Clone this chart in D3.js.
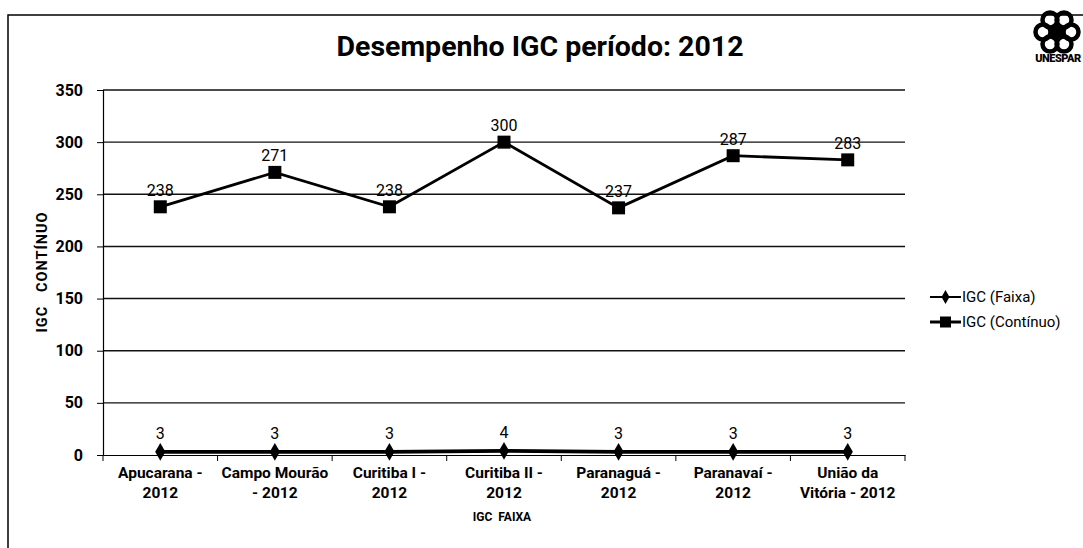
<!DOCTYPE html>
<html><head><meta charset="utf-8">
<script src="https://cdn.jsdelivr.net/npm/d3@7"></script>
<style>
body{margin:0;background:#fff;}
svg text{font-family:Roboto,"Liberation Sans",sans-serif;white-space:pre;}
</style></head>
<body><svg id="c" width="1083" height="548"></svg>
<script>
const categories = [["Apucarana -","2012"],["Campo Mourão","- 2012"],["Curitiba I -","2012"],["Curitiba II -","2012"],["Paranaguá -","2012"],["Paranavaí -","2012"],["União da","Vitória - 2012"]];
const faixa = [3,3,3,4,3,3,3];
const continuo = [238,271,238,300,237,287,283];
const yTicks = [0,50,100,150,200,250,300,350];
const seriesNames = ["IGC (Faixa)","IGC (Contínuo)"];

const svg = d3.select("#c");
// outer frame
svg.append("rect").attr("x",8).attr("y",15).attr("width",1090).attr("height",560)
  .attr("fill","none").attr("stroke","#000").attr("stroke-width",1.5);

const m = {l:103,r:905,t:90,b:455};
const x = d3.scaleBand().domain(d3.range(categories.length)).range([m.l,m.r]);
const y = d3.scaleLinear().domain([0,350]).range([m.b,m.t]);

// gridlines
svg.append("g").selectAll("line").data(yTicks.filter(d=>d>0)).join("line")
  .attr("x1",m.l).attr("x2",m.r).attr("y1",d=>y(d)).attr("y2",d=>y(d))
  .attr("stroke","#111").attr("stroke-width",1.4);

// y axis
const ya = svg.append("g").attr("transform",`translate(${m.l},0)`)
  .call(d3.axisLeft(y).tickValues(yTicks).tickSize(6).tickPadding(14));
ya.select(".domain").attr("stroke","#000").attr("stroke-width",1.2);
ya.selectAll("line").attr("stroke","#000");
ya.selectAll("text").attr("font-size",16).attr("font-weight","bold").attr("fill","#000");

// x axis
const xa = svg.append("g").attr("transform",`translate(0,${m.b})`)
  .call(d3.axisBottom(x).tickSize(0).tickFormat(""));
xa.select(".domain").attr("stroke","#000").attr("stroke-width",1.2);
svg.append("g").selectAll("line").data(d3.range(categories.length+1)).join("line")
  .attr("x1",i=>m.l+i*x.step()).attr("x2",i=>m.l+i*x.step())
  .attr("y1",m.b).attr("y2",m.b+6).attr("stroke","#000");
const lbl = svg.append("g").selectAll("text").data(categories).join("text")
  .attr("text-anchor","middle").attr("font-size",15.5).attr("font-weight","bold").attr("fill","#000")
  .attr("transform",(d,i)=>`translate(${x(i)+x.bandwidth()/2},${m.b+23})`);
lbl.selectAll("tspan").data(d=>d).join("tspan").attr("x",0).attr("dy",(d,j)=>j?20:0).text(d=>d);

// axis titles
svg.append("text").attr("x",502).attr("y",521).attr("text-anchor","middle")
  .attr("font-size",12).attr("font-weight","bold").text("IGC  FAIXA");
svg.append("text").attr("transform","translate(47,272) rotate(-90)").attr("text-anchor","middle")
  .attr("font-size",14.5).attr("font-weight","bold").attr("letter-spacing",1).text("IGC   CONTÍNUO");

// title
svg.append("text").attr("x",540).attr("y",56).attr("text-anchor","middle")
  .attr("font-size",28.5).attr("font-weight","bold").text("Desempenho IGC período: 2012");

const cx = i=>x(i)+x.bandwidth()/2;
const line = d3.line().x((d,i)=>cx(i)).y(d=>y(d));

// continuo
svg.append("path").datum(continuo).attr("d",line).attr("fill","none").attr("stroke","#000").attr("stroke-width",2.8);
svg.append("g").selectAll("rect").data(continuo).join("rect")
  .attr("x",(d,i)=>cx(i)-6.5).attr("y",d=>y(d)-6.5).attr("width",13).attr("height",13).attr("fill","#000");
svg.append("g").selectAll("text").data(continuo).join("text")
  .attr("x",(d,i)=>cx(i)).attr("y",d=>y(d)-11).attr("text-anchor","middle")
  .attr("font-size",16).attr("fill","#000").text(d=>d);

// faixa
svg.append("path").datum(faixa).attr("d",line).attr("fill","none").attr("stroke","#000").attr("stroke-width",3.6);
svg.append("g").selectAll("path.dm").data(faixa).join("path")
  .attr("transform",(d,i)=>`translate(${cx(i)},${y(d)})`)
  .attr("d",d3.symbol(d3.symbolDiamond,90)).attr("fill","#000");
svg.append("g").selectAll("text").data(faixa).join("text")
  .attr("x",(d,i)=>cx(i)).attr("y",d=>y(d)-13).attr("text-anchor","middle")
  .attr("font-size",16).attr("fill","#000").text(d=>d);

// legend
const lg = svg.append("g").attr("transform","translate(930,297)");
seriesNames.forEach((n,k)=>{
  const g = lg.append("g").attr("transform",`translate(0,${k*25})`);
  g.append("line").attr("x1",0).attr("x2",31).attr("stroke","#000").attr("stroke-width",k?3:2);
  if(k) g.append("rect").attr("x",10).attr("y",-5.5).attr("width",11).attr("height",11);
  else g.append("path").attr("transform","translate(15.5,0)").attr("d",d3.symbol(d3.symbolDiamond,55));
  g.append("text").attr("x",32).attr("y",5).attr("font-size",15).text(n);
});

// logo
const logo = svg.append("g").attr("transform","translate(1057,32)");
d3.range(6).forEach(i=>{
  const a = Math.PI/3*i;
  logo.append("circle").attr("cx",14*Math.cos(a)).attr("cy",14*Math.sin(a)).attr("r",7.5)
    .attr("fill","none").attr("stroke","#000").attr("stroke-width",4.5);
});
logo.append("circle").attr("r",6).attr("fill","#000");
svg.append("text").attr("x",1058).attr("y",62).attr("text-anchor","middle")
  .attr("font-size",11).attr("font-weight","900").attr("letter-spacing",-0.5).text("UNESPAR");
</script></body></html>
